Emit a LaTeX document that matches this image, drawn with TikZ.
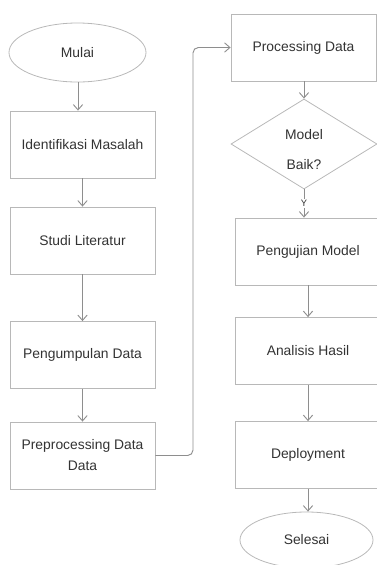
\documentclass[tikz,border=0pt]{standalone}
\usepackage{fontspec}
\setmainfont{Liberation Sans}
\usetikzlibrary{shapes.geometric,arrows.meta}
\definecolor{boxline}{HTML}{B8B8B8}
\definecolor{arrline}{HTML}{8E8E8E}
\definecolor{txt}{HTML}{333333}
\begin{document}
\begin{tikzpicture}[x=0.75pt,y=-0.75pt,
  every node/.style={font=\fontsize{10.4}{15.75}\selectfont, text=txt},
  procbox/.style={draw=boxline, line width=0.6pt, rectangle, minimum width=108.75pt, minimum height=50.25pt, align=center, inner sep=2pt},
  terminal/.style={draw=boxline, line width=0.6pt, ellipse, inner sep=0pt},
  decision/.style={draw=boxline, line width=0.6pt, diamond, minimum width=109.5pt, minimum height=67.5pt, align=center, inner sep=0pt},
  flow/.style={draw=arrline, line width=0.7pt, -{Straight Barb[length=4pt,width=7pt]}},
]
\useasboundingbox (0,0) rectangle (377,565);
\begin{scope}
\clip (0,0) rectangle (377,565);
\node[terminal, minimum width=102.75pt, minimum height=44.25pt] (mulai) at (77.5,52.5) {Mulai};
\node[procbox] (ident) at (82.5,144.5) {Identifikasi Masalah};
\node[procbox] (studi) at (82.5,240.5) {Studi Literatur};
\node[procbox] (kumpul) at (82.5,355) {Pengumpulan Data};
\node[procbox] (prep) at (82.5,455.5) {Preprocessing Data\\Data};

\node[procbox] (proc) at (303.5,47.5) {Processing Data};
\node[decision] (model) at (304,144) {};
\node[align=center, font=\fontsize{10.4}{22.5}\selectfont] (modeltext) at (304,150) {Model\\Baik?};
\node[procbox] (uji) at (308,251.5) {Pengujian Model};
\node[procbox] (analisis) at (308,351) {Analisis Hasil};
\node[procbox] (deploy) at (308,455) {Deployment};
\node[terminal, minimum width=99.75pt, minimum height=42pt] (selesai) at (306.5,540) {Selesai};

\coordinate (bend) at (193,455);

\draw[flow] (mulai.south -| 78,0) -- (ident.north -| 78,0);
\draw[flow] (ident) -- (studi);
\draw[flow] (studi) -- (kumpul);
\draw[flow] (kumpul) -- (prep);
\draw[flow, rounded corners=4pt] (prep.east) -- (prep.east -| bend) |- (proc.west);
\draw[flow] (proc.south -| model.north) -- (model.north);
\draw[flow] (model.south) -- node[fill=white, inner sep=1pt, font=\fontsize{7}{8}\selectfont] {Y} (model.south |- uji.north);
\draw[flow] (uji) -- (analisis);
\draw[flow] (analisis) -- (deploy);
\draw[flow] (deploy.south -| 308,0) -- (selesai.north -| 308,0);
\end{scope}
\end{tikzpicture}
\end{document}
